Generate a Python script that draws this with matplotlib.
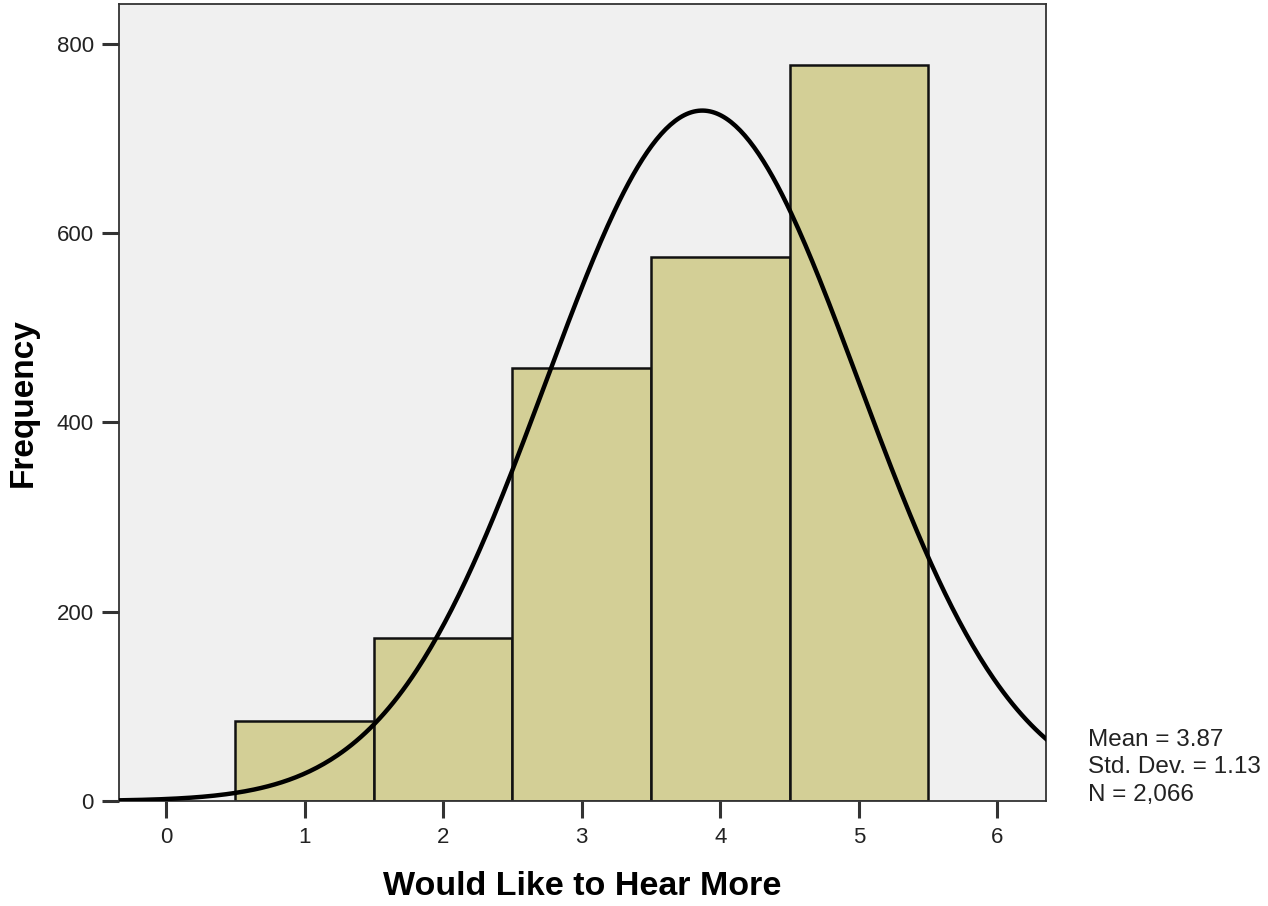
import matplotlib.pyplot as plt
import numpy as np

plt.rcParams['font.family'] = ['Liberation Sans', 'DejaVu Sans']

# histogram of responses (bin centres and counts)
scores = [1, 2, 3, 4, 5]
counts = [84, 172, 457, 575, 778]
mean = 3.87
std_dev = 1.13
n_total = 2066

fig = plt.figure(figsize=(12.68, 9.06), dpi=100)
ax = fig.add_axes([0.0938, 0.1159, 0.7311, 0.8797])
ax.set_facecolor('#f0f0f0')

ax.bar(scores, counts, width=1.0, color='#d3cf96', edgecolor='#111111', linewidth=1.8, zorder=2)

# normal curve scaled to counts (bin width 1)
x = np.linspace(-0.34, 6.36, 400)
y = n_total / (std_dev * np.sqrt(2 * np.pi)) * np.exp(-0.5 * ((x - mean) / std_dev) ** 2)
ax.plot(x, y, color='black', linewidth=3.2, zorder=3, solid_capstyle='butt')

ax.set_xlim(-0.34, 6.35)
ax.set_ylim(0, 842)
ax.set_xticks(range(0, 7))
ax.set_yticks([0, 200, 400, 600, 800])
ax.tick_params(axis='both', direction='out', length=12, width=2.2, color='#333333',
               labelsize=16, labelcolor='#222222')
ax.tick_params(axis='x', pad=7)
ax.tick_params(axis='y', pad=6)
for side in ax.spines.values():
    side.set_color('#333333')
    side.set_linewidth(1.3)

ax.set_xlabel('Would Like to Hear More', fontsize=24.5, fontweight='bold', labelpad=16)
ax.set_ylabel('Frequency', fontsize=24, fontweight='bold', labelpad=13)

fig.text(0.858, 0.1955, 'Mean = 3.87\nStd. Dev. = 1.13\nN = 2,066',
         fontsize=17.5, va='top', ha='left', color='#222222', linespacing=1.32)

fig.savefig('out.png', dpi=100)
